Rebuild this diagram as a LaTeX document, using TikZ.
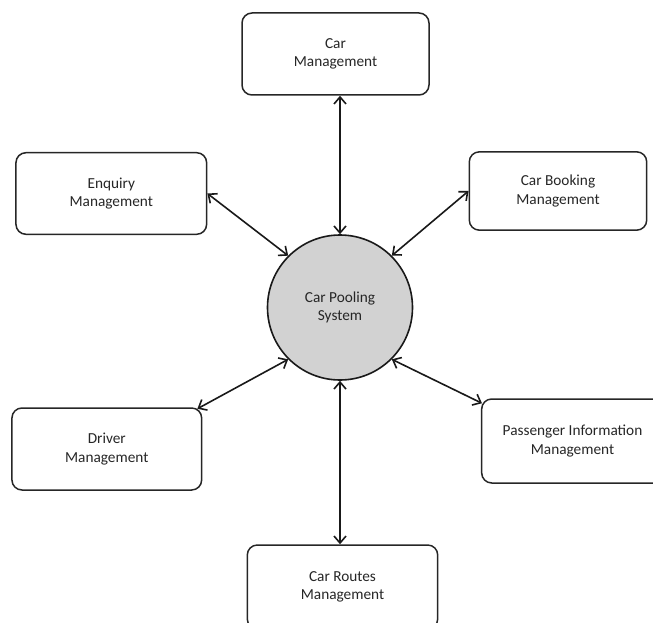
\documentclass[tikz,border=0pt]{standalone}
\usepackage{fontspec}
\setmainfont{Carlito}
\usetikzlibrary{arrows.meta}
\begin{document}
\begin{tikzpicture}[x=1pt,y=-1pt,
  box/.style={draw=black!85, line width=1.5pt, rounded corners=10pt, align=center, inner sep=0pt,
    font=\fontsize{15.3}{18.5}\selectfont, text=black!85},
  hub/.style={circle, draw=black!90, fill=gray!35, line width=1.6pt, minimum size=145pt, inner sep=0pt,
    align=center, font=\fontsize{15.3}{18.5}\selectfont, text=black!85},
  link/.style={line width=1.6pt, draw=black!90,
    {Straight Barb[length=7pt,width=12pt]}-{Straight Barb[length=7pt,width=12pt]}}]
\useasboundingbox (0,0) rectangle (653,623);
\clip (0,0) rectangle (653,623);
\node[hub] (cp) at (340,307.5) {Car Pooling\\System};
\node[box, minimum width=187pt, minimum height=82pt] (cm) at (335.5,54) {Car\\Management};
\node[box, minimum width=190.7pt, minimum height=81.6pt] (en) at (111.3,193.5) {Enquiry\\Management};
\node[box, minimum width=177.4pt, minimum height=78.3pt] (cb) at (558,191) {Car Booking\\Management};
\node[box, minimum width=189.7pt, minimum height=82pt] (dr) at (106.8,449) {Driver\\Management};
\node[box, minimum width=181.6pt, minimum height=84pt] (pi) at (572.5,441) {Passenger Information\\Management};
\node[box, minimum width=190.4pt, minimum height=84pt] (cr) at (342.5,587) {Car Routes\\Management};
\draw[link] (cp.north) -- (cp.north |- cm.south);
\draw[link] (cp.south) -- (cp.south |- cr.north);
\draw[link] (en.east) -- (cp.135);
\draw[link] (cb.west) -- (cp.45);
\draw[link] ([shift={(-5,1.5)}]dr.north east) -- (cp.-135);
\draw[link] ([shift={(1,5)}]pi.north west) -- (cp.-45);
\end{tikzpicture}
\end{document}
